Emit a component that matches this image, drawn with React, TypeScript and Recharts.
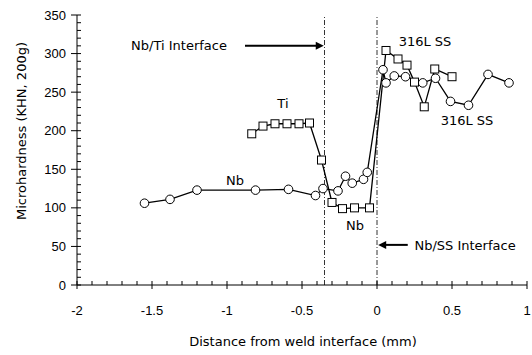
import React from 'react';
import {
  LineChart,
  Line,
  XAxis,
  YAxis,
  ReferenceLine,
  ReferenceDot,
  Label,
} from 'recharts';

// Nb side (circles)
const nbX = [-1.55, -1.38, -1.2, -0.81, -0.59, -0.41, -0.36, -0.26, -0.21, -0.165, -0.09, -0.065, 0.04, 0.06, 0.115, 0.19, 0.305, 0.39, 0.49, 0.61, 0.74, 0.88];
const nbY = [106, 111, 123, 123, 124, 116, 125, 122, 141, 132, 137, 146, 279, 262, 271, 270, 262, 268, 238, 233, 273, 262];

// Ti side (squares)
const tiX = [-0.835, -0.76, -0.68, -0.6, -0.52, -0.45, -0.37, -0.3, -0.23, -0.15, -0.05, 0.06, 0.14, 0.2, 0.25, 0.315, 0.385, 0.5];
const tiY = [196, 206, 209, 209, 209, 210, 162, 107, 99, 100, 100, 304, 293, 285, 263, 231, 280, 270];

const xTicks = Array.from({ length: 31 }, (_, i) => Math.round((-2 + i * 0.1) * 10) / 10);
const yTicks = Array.from({ length: 36 }, (_, i) => i * 10);

const interfaces = [-0.35, 0];

const notes = [
  { x: -1.32, y: 311, text: 'Nb/Ti Interface' },
  { x: -0.627, y: 236, text: 'Ti' },
  { x: -0.947, y: 136, text: 'Nb' },
  { x: -0.147, y: 78, text: 'Nb' },
  { x: 0.32, y: 316, text: '316L SS' },
  { x: 0.6, y: 214, text: '316L SS' },
  { x: 0.587, y: 52, text: 'Nb/SS Interface' },
];

const arrows = [
  { from: { x: -0.88, y: 310 }, to: { x: -0.355, y: 310 } },
  { from: { x: 0.205, y: 52 }, to: { x: 0.008, y: 52 } },
];

const nbData = nbX.map((x, i) => ({ x, y: nbY[i] }));
const tiData = tiX.map((x, i) => ({ x, y: tiY[i] }));

const textFont = '"DejaVu Sans", sans-serif';
const tickFont = '"Liberation Sans", Arial, sans-serif';

const isMajor = (v: number, step: number) => Math.abs(v / step - Math.round(v / step)) < 1e-6;

const XTick = (props: any) => {
  const { x, y, payload } = props;
  const major = isMajor(payload.value, 0.5);
  return (
    <g>
      <line x1={x} x2={x} y1={y - 4} y2={major ? y + 4 : y} stroke="#000" />
      {major && (
        <text x={x} y={y + 30} textAnchor="middle" fontSize={13} fontFamily={tickFont} fill="#000">
          {String(payload.value)}
        </text>
      )}
    </g>
  );
};

const YTick = (props: any) => {
  const { x, y, payload } = props;
  const major = isMajor(payload.value, 50);
  return (
    <g>
      <line x1={major ? x - 6 : x} x2={x + 4} y1={y} y2={y} stroke="#000" />
      {major && (
        <text x={x - 11} y={y + 4.5} textAnchor="end" fontSize={13} fontFamily={tickFont} fill="#000">
          {String(payload.value)}
        </text>
      )}
    </g>
  );
};

const SquareDot = (props: any) => {
  const { cx, cy, index } = props;
  return <rect key={`sq-${index}`} x={cx - 4} y={cy - 4} width={8} height={8} fill="#fff" stroke="#000" strokeWidth={1} />;
};

const CircleDot = (props: any) => {
  const { cx, cy, index } = props;
  return <circle key={`c-${index}`} cx={cx} cy={cy} r={4.3} fill="#fff" stroke="#000" strokeWidth={1} />;
};

const ArrowShape = (props: any) => {
  const { x1, y1, x2, y2 } = props;
  const dir = x2 > x1 ? 1 : -1;
  const tip = x2;
  return (
    <g>
      <line x1={x1} y1={y1} x2={tip - dir * 6} y2={y2} stroke="#000" strokeWidth={2} />
      <polygon points={`${tip},${y2} ${tip - dir * 8},${y2 - 4} ${tip - dir * 8},${y2 + 4}`} fill="#000" />
    </g>
  );
};

export default function App() {
  return (
    <div style={{ position: 'absolute', left: 0, top: 0, background: '#fff' }}>
      <LineChart width={532} height={355} margin={{ top: 15, right: 5, left: 0, bottom: 0 }}>
        <XAxis
          dataKey="x"
          type="number"
          domain={[-2, 1]}
          ticks={xTicks}
          interval={0}
          allowDataOverflow
          height={70}
          tickSize={0}
          tickMargin={0}
          tickLine={false}
          axisLine={{ stroke: '#000' }}
          tick={<XTick />}
        >
          <Label
            content={() => (
              <text x={303} y={346} textAnchor="middle" fontSize={13} fontFamily={textFont} fill="#000">
                Distance from weld interface (mm)
              </text>
            )}
          />
        </XAxis>
        <XAxis xAxisId="top" orientation="top" type="number" domain={[-2, 1]} height={0} tick={false} tickLine={false} axisLine={{ stroke: '#555' }} />
        <YAxis
          type="number"
          domain={[0, 350]}
          ticks={yTicks}
          interval={0}
          width={77}
          tickSize={0}
          tickMargin={0}
          tickLine={false}
          axisLine={{ stroke: '#000' }}
          tick={<YTick />}
        >
          <Label
            content={() => (
              <text x={26} y={131} transform="rotate(-90 26 131)" textAnchor="middle" fontSize={13} fontFamily={textFont} fill="#000">
                Microhardness (KHN, 200g)
              </text>
            )}
          />
        </YAxis>
        <YAxis yAxisId="right" orientation="right" width={0} domain={[0, 350]} tick={false} tickLine={false} axisLine={{ stroke: '#555' }} />

        {interfaces.map((v) => (
          <ReferenceLine key={v} x={v} stroke="#333" strokeWidth={1} strokeDasharray="5 2 1 2" />
        ))}

        <Line
          data={nbData}
          dataKey="y"
          stroke="#000"
          strokeWidth={1.3}
          dot={<CircleDot />}
          isAnimationActive={false}
        />
        <Line
          data={tiData}
          dataKey="y"
          stroke="#000"
          strokeWidth={1.3}
          dot={<SquareDot />}
          isAnimationActive={false}
        />

        {arrows.map((a, i) => (
          <ReferenceLine key={`a-${i}`} segment={[a.from, a.to]} shape={<ArrowShape />} />
        ))}

        {notes.map((n, i) => (
          <ReferenceDot
            key={`n-${i}`}
            x={n.x}
            y={n.y}
            r={1}
            shape={(p: any) => (
              <text x={p.cx} y={p.cy + 5} textAnchor="middle" fontSize={13} fontFamily={textFont} fill="#000">
                {n.text}
              </text>
            )}
          />
        ))}
      </LineChart>
    </div>
  );
}
